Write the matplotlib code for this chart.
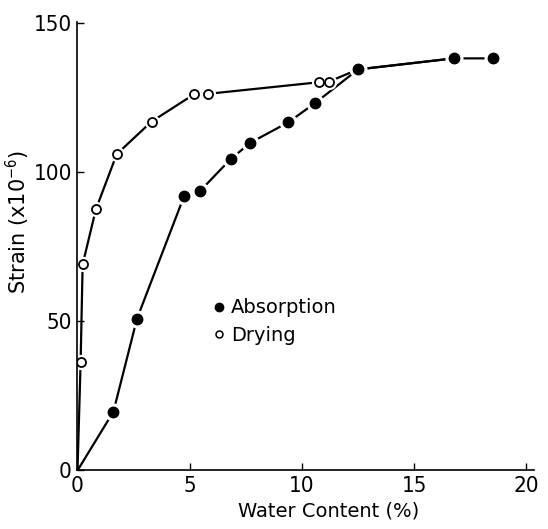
import matplotlib.pyplot as plt
import numpy as np

plt.rcParams['font.family'] = ['DejaVu Sans']
plt.rcParams['font.stretch'] = 'condensed'

# water content (%) and strain (x10^-6)
abs_x = [0, 1.6, 2.65, 4.76, 5.47, 6.82, 7.7, 9.4, 10.6, 12.5, 16.76, 18.5]
abs_y = [0, 19.7, 50.9, 92.2, 93.8, 104.4, 109.9, 116.8, 123.3, 134.5, 138.2, 138.2]

dry_x = [0, 0.14, 0.23, 0.82, 1.75, 3.3, 5.2, 5.8, 10.76, 11.2, 12.5, 16.76]
dry_y = [0, 36.5, 69.1, 87.6, 106.1, 117.0, 126.2, 126.3, 130.2, 130.4, 134.5, 138.2]

xticks = [0, 5, 10, 15, 20]
yticks = [0, 50, 100, 150]

fig = plt.figure(figsize=(5.48, 5.29), dpi=100)
ax = fig.add_axes([0.1414, 0.1106, 0.975 - 0.1414, 0.959 - 0.1106])

# lines first, then a white halo under each marker so the line stops short of it
ax.plot(dry_x, dry_y, color='black', lw=1.6, zorder=1)
ax.plot(abs_x, abs_y, color='black', lw=1.6, zorder=1)
ax.plot(dry_x[1:-1], dry_y[1:-1], 'o', ms=10, color='white', zorder=2)
ax.plot(abs_x[1:], abs_y[1:], 'o', ms=12, color='white', zorder=2)
ax.plot(dry_x[1:-1], dry_y[1:-1], 'o', ms=6.5, mfc='white', mec='black', mew=1.3, zorder=3)
ax.plot(abs_x[1:], abs_y[1:], 'o', ms=7.5, color='black', zorder=4)

# legend drawn as marker + text
ax.plot([], [], 'o', ms=6, color='black', label='Absorption')
ax.plot([], [], 'o', ms=5, mfc='white', mec='black', mew=1.1, label='Drying')
handles, labels = ax.get_legend_handles_labels()
ax.legend(handles[-2:], labels[-2:], loc='upper left', bbox_to_anchor=(0.28, 0.405),
          frameon=False, handlelength=0.4, handletextpad=0.4, labelspacing=0.45,
          prop={'size': 14, 'stretch': 'normal'}, borderpad=0)

ax.set_xlim(0, 20.35)
ax.set_ylim(0, 150.5)
ax.set_xticks(xticks)
ax.set_yticks(yticks)
ax.tick_params(direction='in', length=5, width=1, labelsize=16, pad=4)
for s in ['top', 'right']:
    ax.spines[s].set_visible(False)
for s in ['left', 'bottom']:
    ax.spines[s].set_linewidth(1.2)

ax.set_xlabel('Water Content (%)', fontsize=14, fontstretch='normal')
ax.xaxis.set_label_coords(0.55, -0.07)
ax.set_ylabel('Strain (x10$^{-6}$)', fontsize=15, fontstretch='normal')
ax.yaxis.set_label_coords(-0.1, 0.554)

fig.savefig('out.png', dpi=100)
